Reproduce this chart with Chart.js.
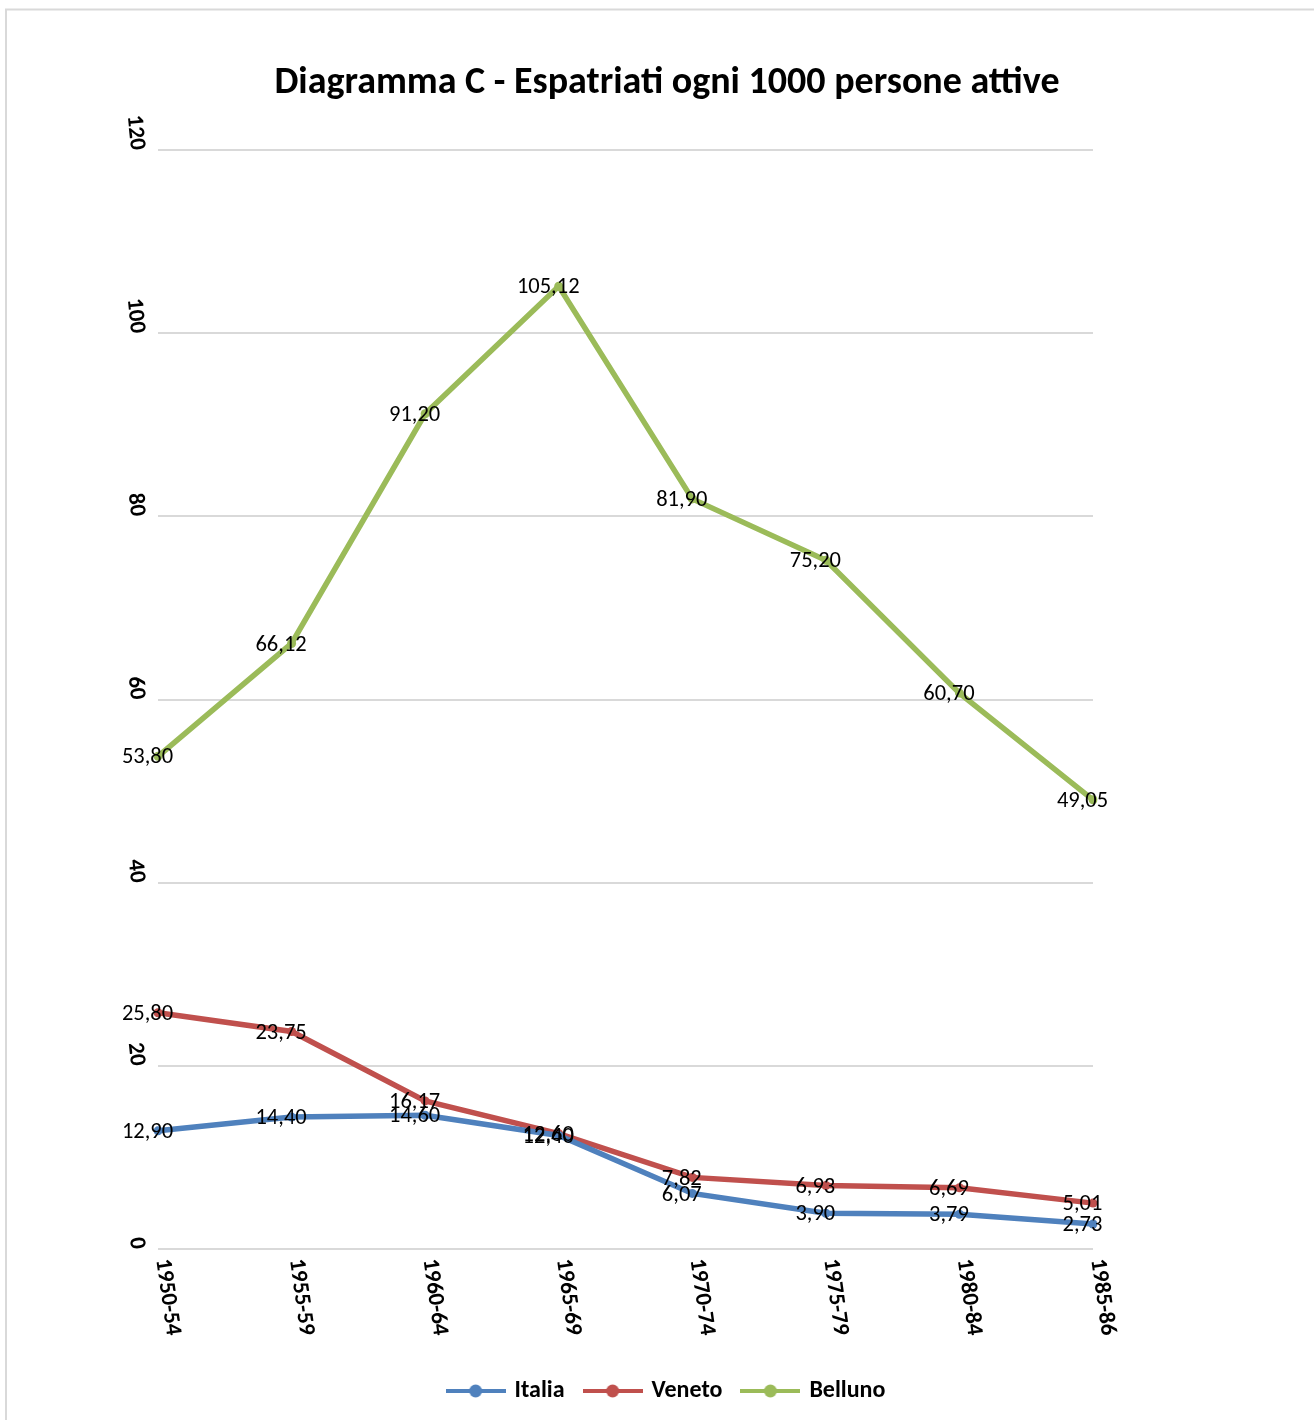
<!DOCTYPE html>
<html>
<head>
<meta charset="utf-8">
<script src="https://cdn.jsdelivr.net/npm/chart.js@4/dist/chart.umd.min.js"></script>
<style>
  html, body { margin: 0; padding: 0; background: #ffffff; }
  canvas { display: block; }
</style>
</head>
<body>
<canvas id="c" width="1314" height="1420"></canvas>
<script>
const categories = ['1950-54', '1955-59', '1960-64', '1965-69', '1970-74', '1975-79', '1980-84', '1985-86'];
const italia  = [12.90, 14.40, 14.60, 12.40, 6.07, 3.90, 3.79, 2.73];
const veneto  = [25.80, 23.75, 16.17, 12.60, 7.82, 6.93, 6.69, 5.01];
const belluno = [53.80, 66.12, 91.20, 105.12, 81.90, 75.20, 60.70, 49.05];
const seriesNames = ['Italia', 'Veneto', 'Belluno'];
const seriesColors = ['#4F81BD', '#C0504D', '#9BBB59'];
const titleText = 'Diagramma C - Espatriati ogni 1000 persone attive';

const FONT = 'Carlito, Lato, "Liberation Sans", sans-serif';

function legendMarker(color) {
  const cv = document.createElement('canvas');
  cv.width = 60; cv.height = 14;
  const c = cv.getContext('2d');
  c.strokeStyle = color; c.lineWidth = 4;
  c.beginPath(); c.moveTo(0, 7); c.lineTo(60, 7); c.stroke();
  c.fillStyle = color;
  c.beginPath(); c.arc(30, 7, 6.5, 0, Math.PI * 2); c.fill();
  return cv;
}
const markers = seriesColors.map(legendMarker);

const frame = {
  id: 'frame',
  beforeDraw(chart) {
    const ctx = chart.ctx;
    ctx.save();
    ctx.fillStyle = '#ffffff';
    ctx.fillRect(0, 0, chart.width, chart.height);
    ctx.strokeStyle = '#d9d9d9';
    ctx.lineWidth = 2;
    ctx.beginPath();
    ctx.moveTo(6, chart.height); ctx.lineTo(6, 9.5); ctx.lineTo(chart.width, 9.5);
    ctx.stroke();
    ctx.restore();
  }
};

const xLabels = {
  id: 'xLabels',
  afterDraw(chart) {
    const sc = chart.scales.x;
    const ctx = chart.ctx;
    ctx.save();
    ctx.font = 'bold 23px ' + FONT;
    ctx.fillStyle = '#000000';
    ctx.textAlign = 'left';
    ctx.textBaseline = 'middle';
    chart.data.labels.forEach((lab, i) => {
      const px = sc.getPixelForTick(i);
      ctx.save();
      ctx.translate(px + 4, sc.top + 10);
      ctx.rotate(82 * Math.PI / 180);
      ctx.fillText(lab, 0, 0);
      ctx.restore();
    });
    ctx.restore();
  }
};

const dataLabels = {
  id: 'dataLabels',
  afterDatasetsDraw(chart) {
    const ctx = chart.ctx;
    ctx.save();
    ctx.font = '22.5px ' + FONT;
    ctx.fillStyle = '#000000';
    ctx.textAlign = 'center';
    ctx.textBaseline = 'middle';
    chart.data.datasets.forEach((ds, di) => {
      const meta = chart.getDatasetMeta(di);
      meta.data.forEach((pt, i) => {
        const txt = ds.data[i].toFixed(2).replace('.', ',');
        ctx.fillText(txt, pt.x - 10.5, pt.y + 1.5);
      });
    });
    ctx.restore();
  }
};

const seriesData = [italia, veneto, belluno];

new Chart(document.getElementById('c'), {
  type: 'line',
  data: {
    labels: categories,
    datasets: seriesNames.map((name, i) => ({
      label: name,
      data: seriesData[i],
      borderColor: seriesColors[i],
      backgroundColor: seriesColors[i],
      borderWidth: 5.5,
      pointRadius: 4.5,
      pointBorderWidth: 0,
      pointBackgroundColor: seriesColors[i],
      tension: 0,
      fill: false
    }))
  },
  options: {
    responsive: false,
    animation: false,
    devicePixelRatio: 1,
    layout: { padding: { left: 20, right: 0, top: 0, bottom: 7 } },
    plugins: {
      title: {
        display: true,
        text: titleText,
        color: '#000000',
        font: { family: FONT, size: 38, weight: 'bold', lineHeight: 1.2 },
        padding: { top: 60.2, bottom: 44.2 }
      },
      legend: {
        display: true,
        position: 'bottom',
        labels: {
          color: '#000000',
          font: { family: FONT, size: 24, weight: 'bold' },
          usePointStyle: true,
          pointStyleWidth: 54,
          padding: 21,
          generateLabels(chart) {
            const items = Chart.defaults.plugins.legend.labels.generateLabels(chart);
            items.forEach((it, i) => { it.pointStyle = markers[i]; });
            return items;
          }
        }
      },
      tooltip: { enabled: false }
    },
    scales: {
      x: {
        type: 'category',
        offset: false,
        grid: { display: false },
        border: { display: false },
        ticks: { display: false },
        afterFit(s) { s.height = 109; }
      },
      y: {
        type: 'linear',
        position: 'left',
        min: 0,
        max: 120,
        grid: { color: '#d9d9d9', lineWidth: 2, drawTicks: false },
        border: { display: false },
        ticks: {
          stepSize: 20,
          color: '#000000',
          font: { family: FONT, size: 23, weight: 'bold' },
          padding: 21,
          minRotation: -84,
          maxRotation: -84
        },
        afterFit(s) { s.width = 138; }
      },
      yR: {
        type: 'linear',
        position: 'right',
        display: true,
        grid: { display: false },
        border: { display: false },
        ticks: { display: false },
        afterFit(s) { s.width = 221; }
      }
    }
  },
  plugins: [frame, xLabels, dataLabels]
});
</script>
</body>
</html>
